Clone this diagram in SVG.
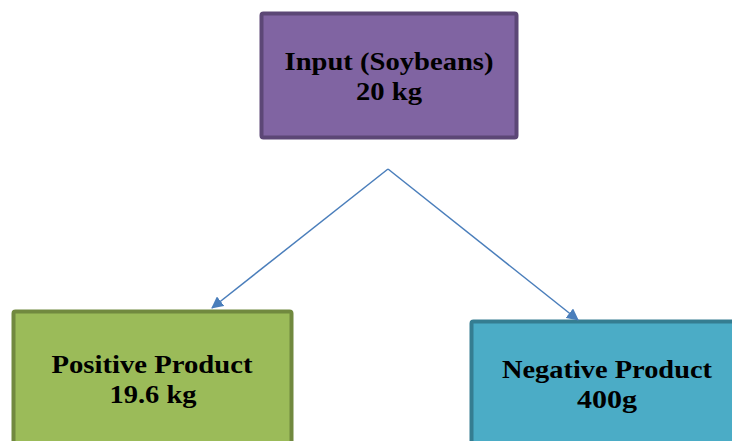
<svg xmlns="http://www.w3.org/2000/svg" width="732" height="441" viewBox="0 0 732 441">
<style>
.t{font-family:"Liberation Serif","DejaVu Serif",serif;font-weight:bold;font-size:26px;fill:#000;text-anchor:middle}
.conn{stroke:#4a7ebb;stroke-width:1.5;fill:none}
</style>
<defs>
<marker id="ah" viewBox="0 0 12 12" refX="11" refY="6" markerWidth="12" markerHeight="12" markerUnits="userSpaceOnUse" orient="auto">
<path d="M0,0 L12,6 L0,12 z" fill="#4a7ebb"/>
</marker>
</defs>
<rect width="732" height="441" fill="#fff"/>
<g id="input">
<rect x="261.5" y="13.5" width="255" height="124" rx="2" fill="#8064a2" stroke="#5c4776" stroke-width="4"/>
<text class="t" x="389" y="70" textLength="209" lengthAdjust="spacingAndGlyphs">Input (Soybeans)</text>
<text class="t" x="389" y="100" textLength="66" lengthAdjust="spacingAndGlyphs">20 kg</text>
</g>
<g id="positive">
<rect x="13.5" y="311.5" width="278" height="140" rx="2" fill="#9bbb59" stroke="#71893f" stroke-width="4"/>
<text class="t" x="152" y="373" textLength="201" lengthAdjust="spacingAndGlyphs">Positive Product</text>
<text class="t" x="153" y="403" textLength="87" lengthAdjust="spacingAndGlyphs">19.6 kg</text>
</g>
<g id="negative">
<rect x="471.5" y="321.5" width="270" height="130" rx="2" fill="#4bacc6" stroke="#357d91" stroke-width="4"/>
<text class="t" x="607" y="378" textLength="210" lengthAdjust="spacingAndGlyphs">Negative Product</text>
<text class="t" x="607" y="408" textLength="60" lengthAdjust="spacingAndGlyphs">400g</text>
</g>
<g id="connectors">
<path class="conn" d="M388,169 L212,308" marker-end="url(#ah)"/>
<path class="conn" d="M388,169 L578,320" marker-end="url(#ah)"/>
</g>
</svg>
